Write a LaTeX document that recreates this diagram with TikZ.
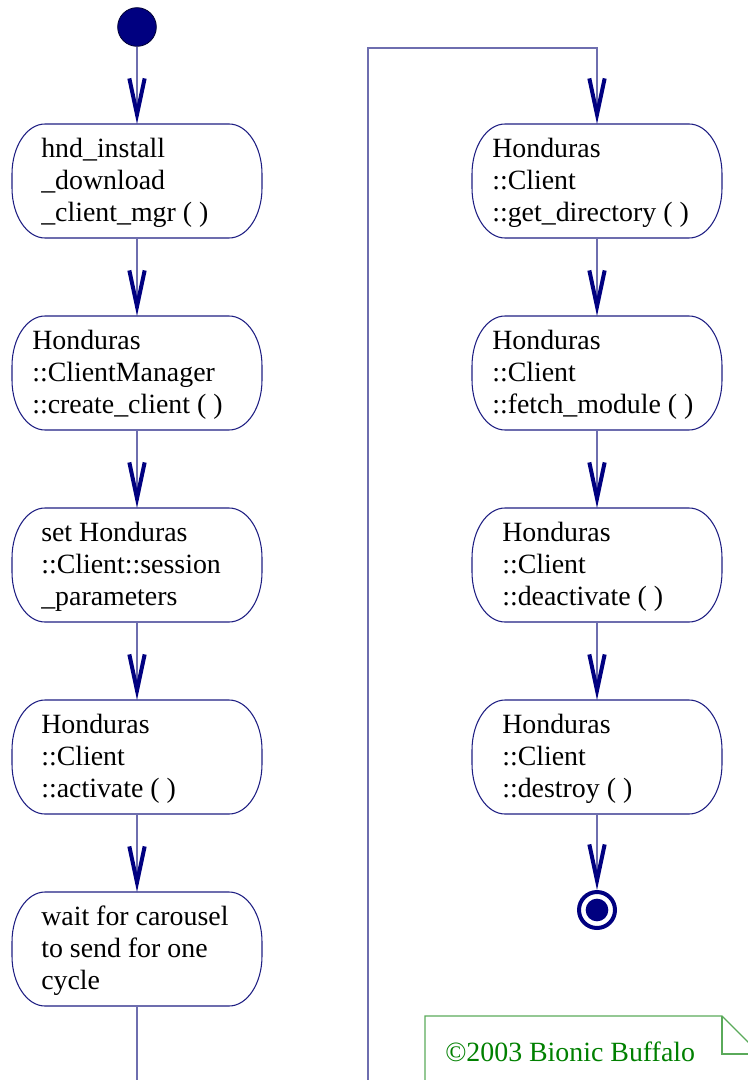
\documentclass[tikz,border=0pt]{standalone}
\usepackage{fontspec}
\setmainfont{Liberation Serif}
\usetikzlibrary{arrows.meta,calc}
\definecolor{nodeblue}{RGB}{30,30,130}
\definecolor{lineblue}{RGB}{110,110,175}
\definecolor{tipblue}{RGB}{0,0,128}
\definecolor{notegreen}{RGB}{0,128,0}
\definecolor{noteline}{RGB}{90,170,90}
% outline of an activity node with elliptical corners (rx=33px, ry=50px)
\newcommand\actoutline[1]{%
  \draw[actline]
    ($(#1.north west)+(33,0)$) -- ($(#1.north east)+(-33,0)$)
    .. controls ($(#1.north east)+(-14.8,0)$) and ($(#1.north east)+(0,22.4)$) .. ($(#1.north east)+(0,50)$)
    -- ($(#1.south east)+(0,-50)$)
    .. controls ($(#1.south east)+(0,-22.4)$) and ($(#1.south east)+(-14.8,0)$) .. ($(#1.south east)+(-33,0)$)
    -- ($(#1.south west)+(33,0)$)
    .. controls ($(#1.south west)+(14.8,0)$) and ($(#1.south west)+(0,-22.4)$) .. ($(#1.south west)+(0,-50)$)
    -- ($(#1.north west)+(0,50)$)
    .. controls ($(#1.north west)+(0,22.4)$) and ($(#1.north west)+(14.8,0)$) .. ($(#1.north west)+(33,0)$)
    -- cycle;}
\begin{document}
\begin{tikzpicture}[x=0.75pt,y=-0.75pt,
 act/.style={minimum width=187.5pt, minimum height=85.5pt, inner sep=0pt, outer sep=0pt},
 actline/.style={draw=nodeblue, line width=0.8pt, line join=round},
 txt/.style={anchor=north west, inner sep=0pt, align=left, font=\fontsize{20.9}{24}\selectfont},
 flow/.style={draw=lineblue, line width=0.8pt, -{Straight Barb[length=27pt,width=11.5pt,line width=3pt,color=tipblue]}},
 plainline/.style={draw=lineblue, line width=0.8pt}
]
\useasboundingbox (0,0) rectangle (748,1080);
\clip (0,0) rectangle (748,1080);

% start / end
\node[circle, fill=tipblue, draw=black!60!tipblue, line width=0.6pt, minimum size=29pt, inner sep=0pt] (start) at (137,27) {};
\node[circle, draw=tipblue, line width=3pt, minimum size=27pt, inner sep=0pt] (end) at (597,910) {};
\node[circle, fill=tipblue, minimum size=17pt, inner sep=0pt] (endin) at (597,910) {};

% left column
\node[act] (L1) at (137,181) {}; \actoutline{L1}
\node[txt] (L1t) at ($(L1.north west)+(29,14)$) {hnd\_install\\\_download\\\_client\_mgr ( )};
\node[act] (L2) at (137,373) {}; \actoutline{L2}
\node[txt] (L2t) at ($(L2.north west)+(20,14)$) {Honduras\\::ClientManager\\::create\_client ( )};
\node[act] (L3) at (137,565) {}; \actoutline{L3}
\node[txt] (L3t) at ($(L3.north west)+(29,14)$) {set Honduras\\::Client::session\\\_parameters};
\node[act] (L4) at (137,757) {}; \actoutline{L4}
\node[txt] (L4t) at ($(L4.north west)+(29,14)$) {Honduras\\::Client\\::activate ( )};
\node[act] (L5) at (137,949) {}; \actoutline{L5}
\node[txt] (L5t) at ($(L5.north west)+(29,14)$) {wait for carousel\\to send for one\\cycle};

% right column
\node[act] (R1) at (597,181) {}; \actoutline{R1}
\node[txt] (R1t) at ($(R1.north west)+(20,14)$) {Honduras\\::Client\\::get\_directory ( )};
\node[act] (R2) at (597,373) {}; \actoutline{R2}
\node[txt] (R2t) at ($(R2.north west)+(20,14)$) {Honduras\\::Client\\::fetch\_module ( )};
\node[act] (R3) at (597,565) {}; \actoutline{R3}
\node[txt] (R3t) at ($(R3.north west)+(30,14)$) {Honduras\\::Client\\::deactivate ( )};
\node[act] (R4) at (597,757) {}; \actoutline{R4}
\node[txt] (R4t) at ($(R4.north west)+(30,14)$) {Honduras\\::Client\\::destroy ( )};

% connectors
\draw[flow] (start) -- (L1.north);
\draw[flow] (L1.south) -- (L2.north);
\draw[flow] (L2.south) -- (L3.north);
\draw[flow] (L3.south) -- (L4.north);
\draw[flow] (L4.south) -- (L5.north);
\coordinate (lb) at (137,1090);
\draw[plainline] (L5.south) -- (lb);
\coordinate (rb) at (368,1090);
\coordinate (turn) at (597,48);
\draw[flow] (rb) |- (turn) -- (R1.north);
\draw[flow] (R1.south) -- (R2.north);
\draw[flow] (R2.south) -- (R3.north);
\draw[flow] (R3.south) -- (R4.north);
\draw[flow] (R4.south) -- (end.north);

% note
\draw[noteline, line width=0.8pt] (425,1095) -- (425,1016) -- (722,1016) -- (760,1054) -- (760,1095);
\draw[noteline, line width=0.8pt] (722,1016) -- (722,1054) -- (760,1054);
\node[anchor=base west, inner sep=0pt, text=notegreen, font=\fontsize{20.9}{24}\selectfont] (note) at (445,1061) {©2003 Bionic Buffalo};
\end{tikzpicture}
\end{document}
